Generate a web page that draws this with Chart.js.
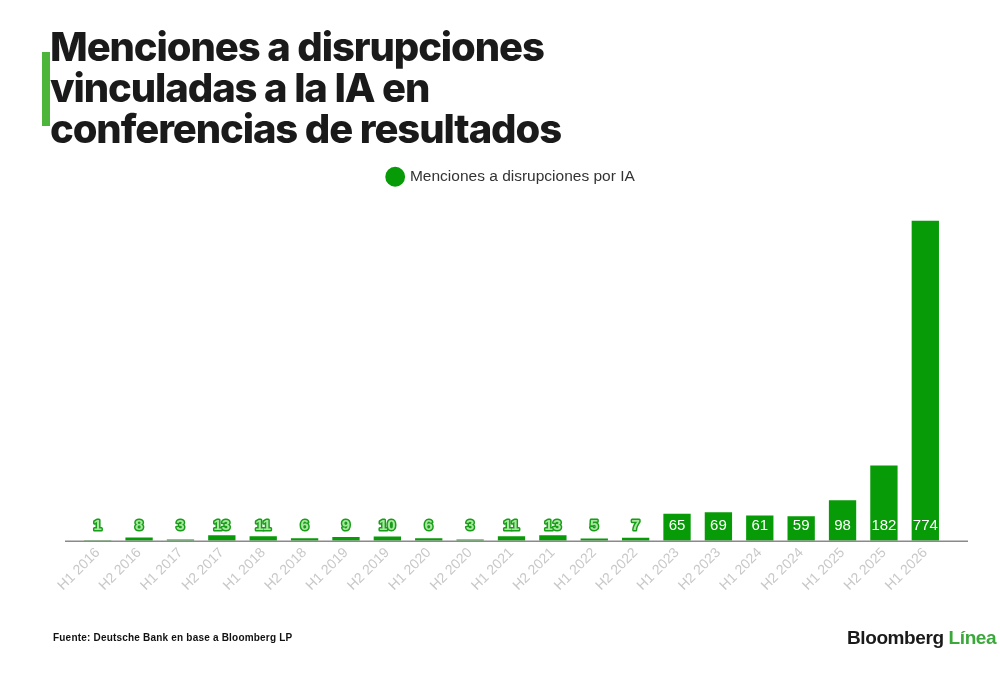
<!DOCTYPE html>
<html>
<head>
<meta charset="utf-8">
<script src="https://cdn.jsdelivr.net/npm/chart.js@4"></script>
<style>
  html, body { margin: 0; padding: 0; background: #fff; }
  body { width: 1000px; height: 689px; position: relative; overflow: hidden; font-family: "Liberation Sans", Arial, sans-serif; }
  #wrap { position: absolute; left: 0; top: 0; width: 1000px; height: 689px; }
  .bar-accent { position: absolute; left: 42px; top: 52px; width: 8px; height: 74px; background: #4cb53a; }
  h1 { position: absolute; left: 50px; top: 26px; margin: 0; font-family: Inter, "Liberation Sans", sans-serif; font-size: 40px; line-height: 41px; font-weight: 800; letter-spacing: -1.1px; color: #1a1a1a; }
  .source { position: absolute; left: 53px; top: 632px; font-size: 10px; font-weight: bold; letter-spacing: 0.2px; color: #111; }
  .brand { position: absolute; left: 847px; top: 627px; font-size: 19px; font-weight: bold; letter-spacing: -0.4px; color: #1a1a1a; }
  .brand span { color: #3aa83a; }
</style>
</head>
<body>
<div id="wrap"><canvas id="mentionsChart"></canvas></div>
<div class="bar-accent"></div>
<h1>Menciones a disrupciones<br>vinculadas a la IA en<br>conferencias de resultados</h1>
<div class="source">Fuente: Deutsche Bank en base a Bloomberg LP</div>
<div class="brand">Bloomberg <span>Línea</span></div>
<script>
const periods = ["H1 2016", "H2 2016", "H1 2017", "H2 2017", "H1 2018", "H2 2018", "H1 2019", "H2 2019",
  "H1 2020", "H2 2020", "H1 2021", "H2 2021", "H1 2022", "H2 2022", "H1 2023", "H2 2023",
  "H1 2024", "H2 2024", "H1 2025", "H2 2025", "H1 2026"];
const mentions = [1, 8, 3, 13, 11, 6, 9, 10, 6, 3, 11, 13, 5, 7, 65, 69, 61, 59, 98, 182, 774];
const seriesName = "Menciones a disrupciones por IA";

const green = "#079b07";

// extra room between the legend and the bars
const legendGap = {
  id: "legendGap",
  beforeInit(chart) {
    const fit = chart.legend.fit;
    chart.legend.fit = function () {
      fit.bind(chart.legend)();
      this.height += 26;
    };
  }
};

// baseline under the bars, a bit wider than the plot
const baseLine = {
  id: "baseLine",
  afterDatasetsDraw(chart) {
    const { ctx, chartArea } = chart;
    ctx.save();
    ctx.strokeStyle = "#8a8a8a";
    ctx.lineWidth = 1.5;
    ctx.beginPath();
    ctx.moveTo(chartArea.left - 12, chartArea.bottom + 0.5);
    ctx.lineTo(chartArea.right + 22, chartArea.bottom + 0.5);
    ctx.stroke();
    ctx.restore();
  }
};

// value labels sit at one height just above the axis
const valueLabels = {
  id: "valueLabels",
  afterDatasetsDraw(chart) {
    const { ctx, chartArea } = chart;
    const meta = chart.getDatasetMeta(0);
    const y = chartArea.bottom - 15;
    ctx.save();
    ctx.textAlign = "center";
    ctx.textBaseline = "middle";
    meta.data.forEach((bar, i) => {
      const txt = String(mentions[i]);
      if (bar.y < y - 9) {
        ctx.font = "15px 'Liberation Sans', Arial, sans-serif";
        ctx.fillStyle = "#ffffff";
        ctx.fillText(txt, bar.x, y);
      } else {
        ctx.font = "bold 15px 'Liberation Sans', Arial, sans-serif";
        ctx.lineJoin = "round";
        ctx.lineWidth = 3;
        ctx.strokeStyle = "#179d17";
        ctx.strokeText(txt, bar.x, y);
        ctx.fillStyle = "#a9e7a0";
        ctx.fillText(txt, bar.x, y);
      }
    });
    ctx.restore();
  }
};

new Chart(document.getElementById("mentionsChart"), {
  type: "bar",
  data: {
    labels: periods,
    datasets: [{
      label: seriesName,
      data: mentions,
      backgroundColor: green,
      borderWidth: 0,
      barPercentage: 0.66,
      categoryPercentage: 1
    }]
  },
  options: {
    responsive: true,
    maintainAspectRatio: false,
    animation: false,
    layout: { padding: { top: 159, left: 77, right: 54, bottom: 99 } },
    plugins: {
      legend: {
        display: true,
        position: "top",
        labels: {
          usePointStyle: true,
          pointStyle: "circle",
          boxWidth: 14,
          boxHeight: 14,
          color: "#333",
          font: { family: "'Liberation Sans', Arial, sans-serif", size: 15.5 },
          generateLabels(chart) {
            return [{ text: seriesName, fillStyle: green, strokeStyle: green, lineWidth: 0, pointStyle: "circle", fontColor: "#333" }];
          }
        }
      },
      tooltip: { enabled: false }
    },
    scales: {
      x: {
        grid: { display: false },
        border: { display: false },
        ticks: {
          color: "#c8c8c8",
          padding: -4,
          minRotation: 45,
          maxRotation: 45,
          font: { family: "'Liberation Sans', Arial, sans-serif", size: 14 }
        }
      },
      y: {
        display: false,
        min: 0,
        max: 774
      }
    }
  },
  plugins: [legendGap, baseLine, valueLabels]
});
</script>
</body>
</html>
